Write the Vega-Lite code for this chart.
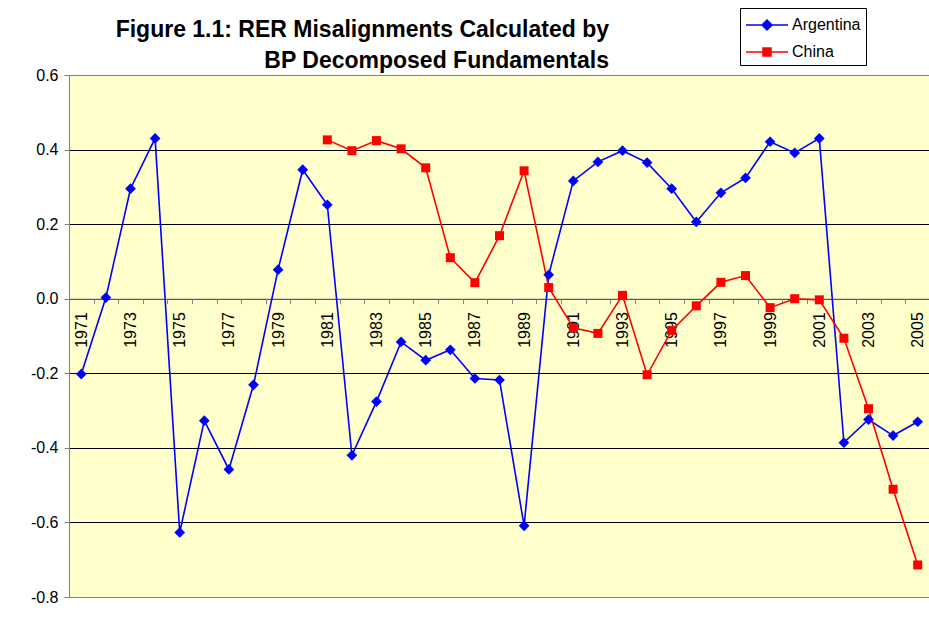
{
  "$schema": "https://vega.github.io/schema/vega-lite/v6.json",
  "autosize": {"type": "none"},
  "padding": {"left": 69, "top": 75, "right": 0, "bottom": 29},
  "width": 861,
  "height": 522,
  "background": "white",
  "title": {
    "text": ["Figure 1.1: RER Misalignments Calculated by", "BP Decomposed Fundamentals"],
    "anchor": "start",
    "align": "right",
    "frame": "group",
    "dx": 540,
    "offset": -65,
    "fontSize": 23,
    "fontWeight": "bold",
    "font": "Liberation Sans",
    "lineHeight": 31,
    "color": "black"
  },
  "config": {
    "view": {"fill": "#FFFFCC", "stroke": "#808080", "strokeWidth": 1},
    "font": "Liberation Sans",
    "legend": {
      "title": null,
      "orient": "none",
      "legendX": 671,
      "legendY": -67,
      "padding": 5,
      "strokeColor": "black",
      "fillColor": "white",
      "labelFontSize": 16,
      "labelFont": "Liberation Sans",
      "labelColor": "black",
      "labelOffset": 23,
      "rowPadding": 6,
      "symbolSize": 484,
      "symbolStrokeWidth": 1.5,
      "symbolOpacity": 1
    }
  },
  "data": {
    "values": [
      {"year": 1971, "country": "Argentina", "value": -0.202},
      {"year": 1972, "country": "Argentina", "value": 0.003},
      {"year": 1973, "country": "Argentina", "value": 0.295},
      {"year": 1974, "country": "Argentina", "value": 0.43},
      {"year": 1975, "country": "Argentina", "value": -0.627},
      {"year": 1976, "country": "Argentina", "value": -0.327},
      {"year": 1977, "country": "Argentina", "value": -0.458},
      {"year": 1978, "country": "Argentina", "value": -0.231},
      {"year": 1979, "country": "Argentina", "value": 0.078},
      {"year": 1980, "country": "Argentina", "value": 0.346},
      {"year": 1981, "country": "Argentina", "value": 0.252},
      {"year": 1982, "country": "Argentina", "value": -0.42},
      {"year": 1983, "country": "Argentina", "value": -0.276},
      {"year": 1984, "country": "Argentina", "value": -0.116},
      {"year": 1985, "country": "Argentina", "value": -0.165},
      {"year": 1986, "country": "Argentina", "value": -0.137},
      {"year": 1987, "country": "Argentina", "value": -0.214},
      {"year": 1988, "country": "Argentina", "value": -0.218},
      {"year": 1989, "country": "Argentina", "value": -0.609},
      {"year": 1990, "country": "Argentina", "value": 0.064},
      {"year": 1991, "country": "Argentina", "value": 0.316},
      {"year": 1992, "country": "Argentina", "value": 0.367},
      {"year": 1993, "country": "Argentina", "value": 0.397},
      {"year": 1994, "country": "Argentina", "value": 0.365},
      {"year": 1995, "country": "Argentina", "value": 0.295},
      {"year": 1996, "country": "Argentina", "value": 0.206},
      {"year": 1997, "country": "Argentina", "value": 0.284},
      {"year": 1998, "country": "Argentina", "value": 0.324},
      {"year": 1999, "country": "Argentina", "value": 0.421},
      {"year": 2000, "country": "Argentina", "value": 0.391},
      {"year": 2001, "country": "Argentina", "value": 0.43},
      {"year": 2002, "country": "Argentina", "value": -0.386},
      {"year": 2003, "country": "Argentina", "value": -0.324},
      {"year": 2004, "country": "Argentina", "value": -0.367},
      {"year": 2005, "country": "Argentina", "value": -0.33},
      {"year": 1981, "country": "China", "value": 0.426},
      {"year": 1982, "country": "China", "value": 0.397},
      {"year": 1983, "country": "China", "value": 0.424},
      {"year": 1984, "country": "China", "value": 0.402},
      {"year": 1985, "country": "China", "value": 0.351},
      {"year": 1986, "country": "China", "value": 0.11},
      {"year": 1987, "country": "China", "value": 0.043},
      {"year": 1988, "country": "China", "value": 0.169},
      {"year": 1989, "country": "China", "value": 0.343},
      {"year": 1990, "country": "China", "value": 0.03},
      {"year": 1991, "country": "China", "value": -0.078},
      {"year": 1992, "country": "China", "value": -0.093},
      {"year": 1993, "country": "China", "value": 0.009},
      {"year": 1994, "country": "China", "value": -0.204},
      {"year": 1995, "country": "China", "value": -0.085},
      {"year": 1996, "country": "China", "value": -0.019},
      {"year": 1997, "country": "China", "value": 0.044},
      {"year": 1998, "country": "China", "value": 0.062},
      {"year": 1999, "country": "China", "value": -0.024},
      {"year": 2000, "country": "China", "value": 0.0},
      {"year": 2001, "country": "China", "value": -0.003},
      {"year": 2002, "country": "China", "value": -0.106},
      {"year": 2003, "country": "China", "value": -0.295},
      {"year": 2004, "country": "China", "value": -0.511},
      {"year": 2005, "country": "China", "value": -0.714}
    ]
  },
  "encoding": {
    "x": {
      "field": "year",
      "type": "ordinal",
      "bandPosition": 0.5,
      "scale": {"type": "band", "paddingInner": 0, "paddingOuter": 0},
      "axis": {
        "title": null,
        "offset": -298.3,
        "labelAngle": 270,
        "labelFontSize": 16,
        "labelFont": "Liberation Sans",
        "labelColor": "black",
        "labelPadding": 8,
        "labelOverlap": false,
        "labelExpr": "toNumber(datum.value) % 2 == 1 ? datum.label : ''",
        "tickBand": "extent",
        "tickSize": 5,
        "tickColor": "#808080",
        "domainColor": "#808080",
        "domainWidth": 1,
        "grid": false
      }
    },
    "y": {
      "field": "value",
      "type": "quantitative",
      "scale": {"domain": [-0.8, 0.6], "nice": false},
      "axis": {
        "title": null,
        "values": [-0.8, -0.6, -0.4, -0.2, 0, 0.2, 0.4, 0.6],
        "labelExpr": "datum.value < 0 ? '-' + format(-datum.value, '.1f') : format(datum.value, '.1f')",
        "labelFontSize": 16,
        "labelFont": "Liberation Sans",
        "labelColor": "black",
        "labelPadding": 6,
        "tickSize": 5,
        "tickColor": "#808080",
        "domainColor": "#808080",
        "grid": true,
        "gridColor": {"condition": {"test": "datum.value > 0.5 || datum.value < -0.7", "value": "#808080"}, "value": "black"},
        "gridWidth": 1,
        "gridOpacity": 1
      }
    }
  },
  "layer": [
    {
      "mark": {"type": "line", "strokeWidth": 1.6},
      "encoding": {
        "stroke": {
          "field": "country",
          "type": "nominal",
          "scale": {"domain": ["Argentina", "China"], "range": ["#0000FF", "#FF0000"]}
        }
      }
    },
    {
      "transform": [{"filter": "datum.country === 'Argentina'"}],
      "mark": {"type": "point", "filled": true, "opacity": 1, "shape": "diamond", "size": 115, "strokeWidth": 0},
      "encoding": {
        "fill": {
          "field": "country",
          "type": "nominal",
          "scale": {"domain": ["Argentina", "China"], "range": ["#0000FF", "#FF0000"]}
        }
      }
    },
    {
      "transform": [{"filter": "datum.country === 'China'"}],
      "mark": {"type": "point", "filled": true, "opacity": 1, "shape": "square", "size": 81, "strokeWidth": 0},
      "encoding": {
        "fill": {
          "field": "country",
          "type": "nominal",
          "scale": {"domain": ["Argentina", "China"], "range": ["#0000FF", "#FF0000"]}
        }
      }
    },
    {
      "transform": [{"filter": "false"}],
      "mark": {"type": "point", "filled": true, "opacity": 1, "size": 484, "strokeWidth": 1.5},
      "encoding": {
        "shape": {
          "field": "country",
          "type": "nominal",
          "scale": {"domain": ["Argentina", "China"], "range": ["M-1,0L2.82,0M0.909,-0.455L1.364,0L0.909,0.455L0.455,0Z", "M-1,0L2.82,0M0.545,-0.364L1.273,-0.364L1.273,0.364L0.545,0.364Z"]}
        },
        "fill": {
          "field": "country",
          "type": "nominal",
          "scale": {"domain": ["Argentina", "China"], "range": ["#0000FF", "#FF0000"]}
        },
        "stroke": {
          "field": "country",
          "type": "nominal",
          "scale": {"domain": ["Argentina", "China"], "range": ["#0000FF", "#FF0000"]}
        }
      }
    }
  ]
}
